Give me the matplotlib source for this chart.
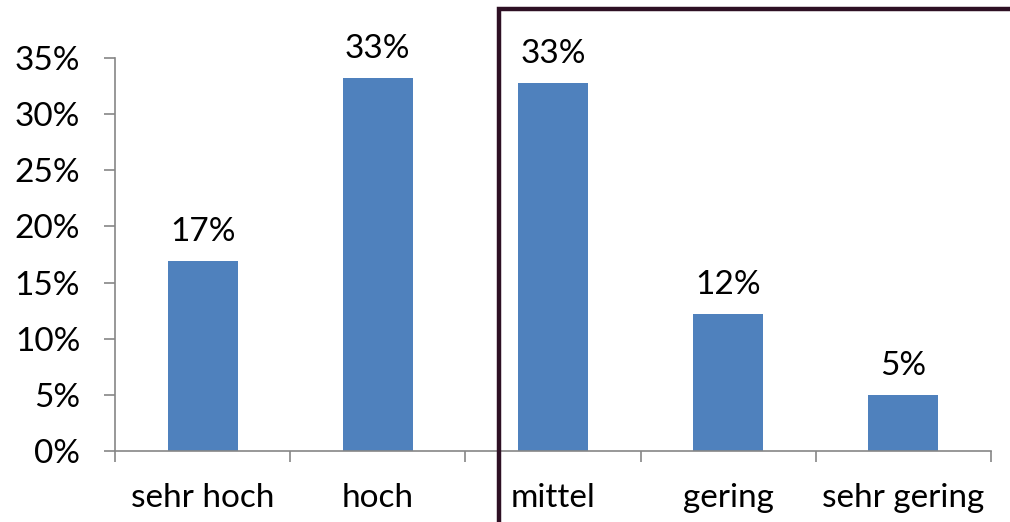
import matplotlib.pyplot as plt
from matplotlib.patches import Rectangle
from matplotlib.ticker import FixedLocator

# data
categories = ['sehr hoch', 'hoch', 'mittel', 'gering', 'sehr gering']
values = [16.9, 33.2, 32.8, 12.2, 5.0]
labels = ['17%', '33%', '33%', '12%', '5%']
yticks = [0, 5, 10, 15, 20, 25, 30, 35]

plt.rcParams['font.family'] = ['Lato', 'DejaVu Sans']

W, H = 1010, 522
fig = plt.figure(figsize=(W / 100, H / 100), dpi=100)
ax = fig.add_axes([115 / W, 1 - 451 / H, (991 - 115) / W, (451 - 58) / H])

x = range(len(categories))
ax.bar(x, values, width=0.4, color='#4F81BD', zorder=2)
for xi, v, lab in zip(x, values, labels):
    ax.annotate(lab, (xi, v), xytext=(0, 10), textcoords='offset points',
                ha='center', va='bottom', fontsize=24, color='black')

ax.set_xlim(-0.5, len(categories) - 0.5)
ax.set_ylim(0, 35)
ax.set_yticks(yticks)
ax.set_yticklabels([f'{t}%' for t in yticks], fontsize=24)
ax.set_xticks(list(x))
ax.set_xticklabels(categories, fontsize=24)
ax.xaxis.set_minor_locator(FixedLocator([i - 0.5 for i in range(len(categories) + 1)]))
ax.tick_params(axis='x', which='major', length=0, pad=23)
ax.tick_params(axis='x', which='minor', length=8, width=1.2, color='#868686')
ax.tick_params(axis='y', length=8, width=1.2, color='#868686', pad=17)

for s in ['top', 'right']:
    ax.spines[s].set_visible(False)
for s in ['left', 'bottom']:
    ax.spines[s].set_color('#868686')
    ax.spines[s].set_linewidth(1.2)

# dark frame on the right half
frame = Rectangle((499 / W, -0.1), 0.6, 1 - 9 / H + 0.1, transform=fig.transFigure,
                  fill=False, edgecolor='#2E1024', linewidth=3.2, zorder=5)
fig.patches.append(frame)

fig.savefig('out.png', dpi=100)
